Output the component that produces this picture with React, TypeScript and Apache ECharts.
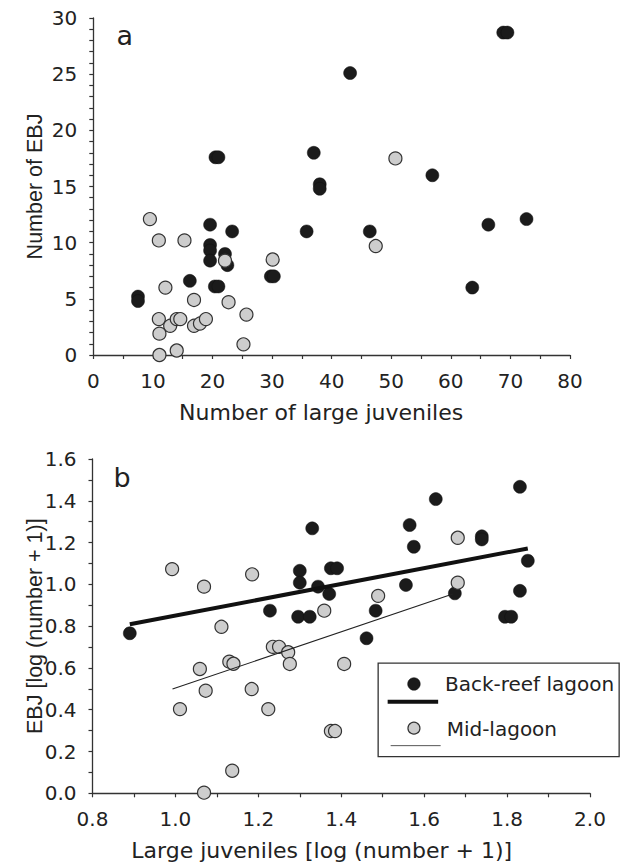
import React, { useEffect, useRef } from "react";
import * as echarts from "echarts";

// Panel a: raw counts
const aBackReefX = [7.5, 7.5, 19.6, 23.3, 35.8, 19.6, 19.6, 19.6, 22.1, 22.5, 16.2, 20.4, 21.0, 29.8, 30.3, 20.5, 21.0, 37.0, 38.0, 38.0, 43.1, 68.8, 69.5, 56.9, 46.4, 66.3, 72.7, 63.6];
const aBackReefY = [5.2, 4.8, 11.6, 11.0, 11.0, 9.8, 9.3, 8.4, 9.0, 8.0, 6.6, 6.1, 6.1, 7.0, 7.0, 17.6, 17.6, 18.0, 15.2, 14.8, 25.1, 28.7, 28.7, 16.0, 11.0, 11.6, 12.1, 6.0];
const aMidX = [9.5, 11.0, 15.3, 22.1, 30.1, 12.1, 16.9, 22.7, 25.7, 11.0, 12.9, 14.0, 14.6, 16.9, 17.9, 18.9, 11.1, 25.2, 11.1, 14.0, 50.7, 47.4];
const aMidY = [12.1, 10.2, 10.2, 8.4, 8.5, 6.0, 4.9, 4.7, 3.6, 3.2, 2.6, 3.2, 3.2, 2.6, 2.8, 3.2, 1.9, 0.95, 0.0, 0.4, 17.5, 9.7];

// Panel b: log(number + 1)
const bBackReefX = [1.330, 1.300, 1.300, 1.375, 1.390, 1.344, 1.371, 1.228, 1.296, 1.324, 0.890, 1.831, 1.628, 1.565, 1.575, 1.739, 1.739, 1.850, 1.556, 1.674, 1.831, 1.483, 1.795, 1.810, 1.461];
const bBackReefY = [1.268, 1.065, 1.008, 1.077, 1.077, 0.989, 0.954, 0.874, 0.845, 0.845, 0.766, 1.467, 1.408, 1.284, 1.180, 1.230, 1.215, 1.113, 0.997, 0.957, 0.969, 0.874, 0.845, 0.845, 0.742];
const bMidX = [0.992, 1.185, 1.069, 1.359, 1.111, 1.681, 1.681, 1.489, 1.235, 1.250, 1.272, 1.276, 1.130, 1.140, 1.059, 1.407, 1.073, 1.184, 1.011, 1.224, 1.375, 1.385, 1.137, 1.069];
const bMidY = [1.073, 1.048, 0.989, 0.874, 0.797, 1.223, 1.008, 0.945, 0.701, 0.701, 0.675, 0.619, 0.630, 0.620, 0.595, 0.619, 0.491, 0.499, 0.403, 0.403, 0.298, 0.298, 0.108, 0.003];

// Regression lines (end points)
const bBackReefFitX = [0.89, 1.85];
const bBackReefFitY = [0.809, 1.172];
const bMidFitX = [0.993, 1.669];
const bMidFitY = [0.499, 0.954];

const legendNames = ["Back-reef lagoon", "Mid-lagoon"];
const panelLabels = ["a", "b"];

const FONT = "DejaVu Sans";
const VFONT = "Liberation Sans";
const TXT = "#222";
const AX = "#333";

const zip = (xs: number[], ys: number[]) => xs.map((x, i) => [x, ys[i]]);

const blackStyle = { color: "#1b1b1b", borderColor: "#111", borderWidth: 0.5, opacity: 1 };
const grayStyle = { color: "#cdcdcd", borderColor: "#333", borderWidth: 1.2, opacity: 1 };

function axisCommon() {
  return {
    axisLine: { show: true, onZero: false, lineStyle: { color: AX, width: 1.3 } },
    axisTick: { show: true, length: 4, lineStyle: { color: AX, width: 1.2 } },
    minorTick: { show: true, length: 4, lineStyle: { color: AX, width: 1.2 } },
    splitLine: { show: false },
    axisLabel: { color: TXT, fontFamily: FONT, fontSize: 20, margin: 16 },
    nameTextStyle: { color: TXT, fontFamily: FONT, fontSize: 22 },
    nameLocation: "middle" as const,
  };
}

export default function App() {
  const ref = useRef<HTMLDivElement>(null);
  useEffect(() => {
    if (!ref.current) return;
    const chart = echarts.init(ref.current, null, { renderer: "svg" });
    const c = axisCommon();
    const vName = { color: TXT, fontFamily: VFONT, fontSize: 21.5 };
    const option: any = {
      animation: false,
      backgroundColor: "#fff",
      grid: [
        { left: 93.3, top: 18, width: 476.7, height: 337 },
        { left: 92.5, top: 459, width: 497.5, height: 334.3 },
      ],
      xAxis: [
        {
          ...c,
          gridIndex: 0,
          type: "value",
          min: 0,
          max: 80,
          interval: 10,
          minorTick: { ...c.minorTick, splitNumber: 2 },
          name: "Number of large juveniles",
          nameGap: 46,
          nameTextStyle: { ...c.nameTextStyle, padding: [0, 21, 0, 0] },
        },
        {
          ...c,
          gridIndex: 1,
          type: "value",
          min: 0.8,
          max: 2.0,
          interval: 0.2,
          minorTick: { ...c.minorTick, splitNumber: 2 },
          axisLabel: { ...c.axisLabel, formatter: (v: number) => v.toFixed(1) },
          name: "Large juveniles [log (number + 1)]",
          nameGap: 46,
          nameTextStyle: { ...c.nameTextStyle, padding: [0, 39, 0, 0] },
        },
      ],
      yAxis: [
        {
          ...c,
          gridIndex: 0,
          type: "value",
          min: 0,
          max: 30,
          interval: 5,
          minorTick: { ...c.minorTick, splitNumber: 5 },
          name: "Number of EBJ",
          nameGap: 47,
          nameMoveOverlap: false,
          nameTextStyle: vName,
        },
        {
          ...c,
          gridIndex: 1,
          type: "value",
          min: 0,
          max: 1.6,
          interval: 0.2,
          minorTick: { ...c.minorTick, splitNumber: 2 },
          axisLabel: { ...c.axisLabel, formatter: (v: number) => v.toFixed(1) },
          name: "EBJ [log (number + 1)]",
          nameGap: 47,
          nameMoveOverlap: false,
          nameTextStyle: vName,
        },
      ],
      series: [
        {
          name: legendNames[0],
          type: "scatter",
          xAxisIndex: 0,
          yAxisIndex: 0,
          symbolSize: 13,
          itemStyle: blackStyle,
          data: zip(aBackReefX, aBackReefY),
          z: 2,
        },
        {
          name: legendNames[1],
          type: "scatter",
          xAxisIndex: 0,
          yAxisIndex: 0,
          symbolSize: 13,
          itemStyle: grayStyle,
          data: zip(aMidX, aMidY),
          z: 3,
        },
        {
          name: legendNames[0],
          type: "scatter",
          xAxisIndex: 1,
          yAxisIndex: 1,
          symbolSize: 13,
          itemStyle: blackStyle,
          data: zip(bBackReefX, bBackReefY),
          z: 2,
        },
        {
          name: legendNames[1],
          type: "scatter",
          xAxisIndex: 1,
          yAxisIndex: 1,
          symbolSize: 13,
          itemStyle: grayStyle,
          data: zip(bMidX, bMidY),
          z: 3,
        },
        {
          name: legendNames[0] + " fit",
          type: "line",
          xAxisIndex: 1,
          yAxisIndex: 1,
          showSymbol: false,
          symbol: "none",
          lineStyle: { color: "#111", width: 4, cap: "butt" },
          data: zip(bBackReefFitX, bBackReefFitY),
          z: 4,
        },
        {
          name: legendNames[1] + " fit",
          type: "line",
          xAxisIndex: 1,
          yAxisIndex: 1,
          showSymbol: false,
          symbol: "none",
          lineStyle: { color: "#222", width: 1.1 },
          data: zip(bMidFitX, bMidFitY),
          z: 4,
        },
      ],
      graphic: [
        {
          type: "text",
          left: 116.5,
          top: 22,
          style: { text: panelLabels[0], font: `27px "${FONT}"`, fill: TXT },
        },
        {
          type: "text",
          left: 113.6,
          top: 464,
          style: { text: panelLabels[1], font: `27px "${FONT}"`, fill: TXT },
        },
        {
          type: "group",
          left: 377.5,
          top: 662.5,
          z: 10,
          children: [
            {
              type: "rect",
              shape: { x: 0, y: 0, width: 241, height: 93.5 },
              style: { fill: "#fff", stroke: AX, lineWidth: 1.3 },
            },
            {
              type: "circle",
              shape: { cx: 35.8, cy: 20.8, r: 6.3 },
              style: { fill: "#1b1b1b", stroke: "#111", lineWidth: 0.5 },
            },
            {
              type: "line",
              shape: { x1: 9.5, y1: 38.5, x2: 60, y2: 38.5 },
              style: { stroke: "#111", lineWidth: 4 },
            },
            {
              type: "text",
              x: 66.8,
              y: 20.8,
              style: { text: legendNames[0], font: `20px "${FONT}"`, fill: TXT, textVerticalAlign: "middle", verticalAlign: "middle" },
            },
            {
              type: "circle",
              shape: { cx: 35.8, cy: 65, r: 6 },
              style: { fill: "#cdcdcd", stroke: "#333", lineWidth: 1.2 },
            },
            {
              type: "line",
              shape: { x1: 12.5, y1: 82.5, x2: 62.5, y2: 82.5 },
              style: { stroke: "#555", lineWidth: 1 },
            },
            {
              type: "text",
              x: 68.5,
              y: 65.5,
              style: { text: legendNames[1], font: `20px "${FONT}"`, fill: TXT, textVerticalAlign: "middle", verticalAlign: "middle" },
            },
          ],
        },
      ],
    };
    chart.setOption(option);
    return () => chart.dispose();
  }, []);
  return (
    <div
      ref={ref}
      style={{ position: "absolute", left: 0, top: 0, width: 625, height: 864 }}
    />
  );
}
